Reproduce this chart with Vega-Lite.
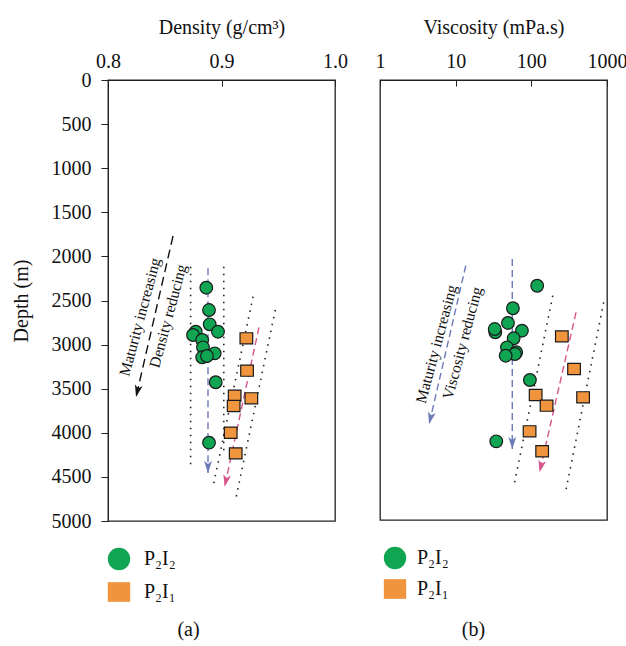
{
  "$schema": "https://vega.github.io/schema/vega-lite/v6.json",
  "padding": {"left": 10, "top": 16, "right": 5, "bottom": 2},
  "spacing": 45,
  "bounds": "flush",
  "config": {
    "font": "Liberation Serif",
    "view": {"stroke": "#222", "strokeWidth": 1.3},
    "axis": {"labelFont": "Liberation Serif", "titleFont": "Liberation Serif", "labelFontSize": 20, "titleFontSize": 20, "titleFontWeight": "normal", "labelColor": "#111", "titleColor": "#111", "domainColor": "#222", "tickColor": "#222", "grid": false, "labelFlush": false},
    "legend": {"labelFont": "Liberation Serif", "labelFontSize": 20, "labelColor": "#111", "symbolStrokeColor": "#1a1a1a", "symbolStrokeWidth": 1.3},
    "title": {"font": "Liberation Serif", "fontSize": 20, "fontWeight": "normal", "color": "#111"}
  },
  "datasets": {
    "ptsA": [
      {"s": "P₂I₂", "v": 0.8866, "depth": 2355},
      {"s": "P₂I₂", "v": 0.889, "depth": 2608},
      {"s": "P₂I₂", "v": 0.8896, "depth": 2770},
      {"s": "P₂I₂", "v": 0.8969, "depth": 2854},
      {"s": "P₂I₂", "v": 0.8773, "depth": 2854},
      {"s": "P₂I₂", "v": 0.8749, "depth": 2891},
      {"s": "P₂I₂", "v": 0.883, "depth": 2948},
      {"s": "P₂I₂", "v": 0.8837, "depth": 3031},
      {"s": "P₂I₂", "v": 0.894, "depth": 3099},
      {"s": "P₂I₂", "v": 0.883, "depth": 3144},
      {"s": "P₂I₂", "v": 0.8872, "depth": 3129},
      {"s": "P₂I₂", "v": 0.8949, "depth": 3427},
      {"s": "P₂I₂", "v": 0.889, "depth": 4112},
      {"s": "P₂I₁", "v": 0.9219, "depth": 2929},
      {"s": "P₂I₁", "v": 0.9225, "depth": 3296},
      {"s": "P₂I₁", "v": 0.9116, "depth": 3579},
      {"s": "P₂I₁", "v": 0.9263, "depth": 3609},
      {"s": "P₂I₁", "v": 0.9107, "depth": 3696},
      {"s": "P₂I₁", "v": 0.9081, "depth": 3999},
      {"s": "P₂I₁", "v": 0.9125, "depth": 4233}
    ],
    "linesA": [
      {"kind": "dot", "x": 0.8728, "y": 2116, "x2": 0.8728, "y2": 4403},
      {"kind": "dot", "x": 0.902, "y": 2116, "x2": 0.902, "y2": 4250},
      {"kind": "dot", "x": 0.9278, "y": 2457, "x2": 0.8925, "y2": 4611},
      {"kind": "dot", "x": 0.9474, "y": 2608, "x2": 0.9125, "y2": 4754},
      {"kind": "blue", "x": 0.8881, "y": 2135, "x2": 0.8881, "y2": 4456},
      {"kind": "pink", "x": 0.933, "y": 2804, "x2": 0.9028, "y2": 4611},
      {"kind": "black", "x": 0.8573, "y": 1769, "x2": 0.8247, "y2": 3594}
    ],
    "textA": [
      {"t": "Maturity increasing", "x": 0.8282, "y": 2687},
      {"t": "Density reducing", "x": 0.8529, "y": 2676}
    ],
    "ptsB": [
      {"s": "P₂I₂", "v": 119.5, "depth": 2338},
      {"s": "P₂I₂", "v": 57.1, "depth": 2594},
      {"s": "P₂I₂", "v": 49.1, "depth": 2761},
      {"s": "P₂I₂", "v": 75.1, "depth": 2849},
      {"s": "P₂I₂", "v": 33.4, "depth": 2867},
      {"s": "P₂I₂", "v": 32.8, "depth": 2830},
      {"s": "P₂I₂", "v": 58.4, "depth": 2935},
      {"s": "P₂I₂", "v": 47.6, "depth": 3038},
      {"s": "P₂I₂", "v": 63.1, "depth": 3094},
      {"s": "P₂I₂", "v": 60.7, "depth": 3114},
      {"s": "P₂I₂", "v": 45.8, "depth": 3133},
      {"s": "P₂I₂", "v": 95.7, "depth": 3409},
      {"s": "P₂I₂", "v": 34.4, "depth": 4106},
      {"s": "P₂I₁", "v": 253, "depth": 2913},
      {"s": "P₂I₁", "v": 367, "depth": 3284},
      {"s": "P₂I₁", "v": 114, "depth": 3580},
      {"s": "P₂I₁", "v": 159, "depth": 3701},
      {"s": "P₂I₁", "v": 483, "depth": 3606},
      {"s": "P₂I₁", "v": 94.8, "depth": 3992},
      {"s": "P₂I₁", "v": 139, "depth": 4219}
    ],
    "linesB": [
      {"kind": "dot", "x": 192, "y": 2451, "x2": 58.9, "y2": 4610},
      {"kind": "dot", "x": 904, "y": 2526, "x2": 283, "y2": 4685},
      {"kind": "bluev", "x": 56, "y": 2034, "x2": 56, "y2": 4193},
      {"kind": "blues", "x": 13.6, "y": 2110, "x2": 4.46, "y2": 3909},
      {"kind": "pink", "x": 390, "y": 2640, "x2": 128.5, "y2": 4458}
    ],
    "textB": [
      {"t": "Maturity increasing", "x": 5.57, "y": 3000},
      {"t": "Viscosity reducing", "x": 12.3, "y": 2989}
    ]
  },
  "resolve": {"scale": {"fill": "independent", "shape": "independent"}},
  "hconcat": [
    {
      "width": 227,
      "height": 441,
      "title": {"text": "(a)", "orient": "bottom", "offset": 15, "anchor": "middle", "dx": -33},
      "layer": [
        {
          "data": {"name": "linesA"},
          "transform": [{"filter": "datum.kind === 'dot'"}],
          "mark": {"type": "rule", "strokeDash": [1.5, 5.5], "strokeWidth": 1.6, "color": "#222"},
          "encoding": {
            "x": {"field": "x", "type": "quantitative", "scale": {"domain": [0.8, 1.0], "nice": false, "zero": false},
                  "axis": {"orient": "top", "title": "Density (g/cm³)", "values": [0.8, 0.9, 1.0], "format": ".1f", "tickSize": -6, "labelPadding": 15, "titlePadding": 14}},
            "y": {"field": "y", "type": "quantitative", "scale": {"domain": [0, 5000], "reverse": true, "nice": false, "zero": false},
                  "axis": {"orient": "left", "title": "Depth (m)", "values": [0, 500, 1000, 1500, 2000, 2500, 3000, 3500, 4000, 4500, 5000], "format": "d", "tickSize": 7, "labelPadding": 10, "titlePadding": 20}},
            "x2": {"field": "x2"},
            "y2": {"field": "y2"}
          }
        },
        {
          "data": {"name": "linesA"},
          "transform": [{"filter": "datum.kind === 'blue'"}],
          "mark": {"type": "rule", "strokeDash": [7, 4], "strokeWidth": 1.4, "color": "#6b79b6"},
          "encoding": {"x": {"field": "x", "type": "quantitative"}, "y": {"field": "y", "type": "quantitative"}, "x2": {"field": "x2"}, "y2": {"field": "y2"}}
        },
        {
          "data": {"name": "linesA"},
          "transform": [{"filter": "datum.kind === 'pink'"}],
          "mark": {"type": "rule", "strokeDash": [7, 4], "strokeWidth": 1.4, "color": "#d6548a"},
          "encoding": {"x": {"field": "x", "type": "quantitative"}, "y": {"field": "y", "type": "quantitative"}, "x2": {"field": "x2"}, "y2": {"field": "y2"}}
        },
        {
          "data": {"name": "linesA"},
          "transform": [{"filter": "datum.kind === 'black'"}],
          "mark": {"type": "rule", "strokeDash": [9, 5], "strokeWidth": 1.4, "color": "#111"},
          "encoding": {"x": {"field": "x", "type": "quantitative"}, "y": {"field": "y", "type": "quantitative"}, "x2": {"field": "x2"}, "y2": {"field": "y2"}}
        },
        {
          "data": {"name": "linesA"},
          "transform": [{"filter": "datum.kind === 'blue'"}],
          "mark": {"type": "point", "shape": "M0,0L-0.65,-2L0,-1.5L0.65,-2Z", "filled": true, "size": 144, "color": "#6b79b6", "opacity": 1, "angle": 0},
          "encoding": {"x": {"field": "x2", "type": "quantitative"}, "y": {"field": "y2", "type": "quantitative"}}
        },
        {
          "data": {"name": "linesA"},
          "transform": [{"filter": "datum.kind === 'pink'"}],
          "mark": {"type": "point", "shape": "M0,0L-0.65,-2L0,-1.5L0.65,-2Z", "filled": true, "size": 144, "color": "#d6548a", "opacity": 1, "angle": 12},
          "encoding": {"x": {"field": "x2", "type": "quantitative"}, "y": {"field": "y2", "type": "quantitative"}}
        },
        {
          "data": {"name": "linesA"},
          "transform": [{"filter": "datum.kind === 'black'"}],
          "mark": {"type": "point", "shape": "M0,0L-0.65,-2L0,-1.5L0.65,-2Z", "filled": true, "size": 144, "color": "#111", "opacity": 1, "angle": 13},
          "encoding": {"x": {"field": "x2", "type": "quantitative"}, "y": {"field": "y2", "type": "quantitative"}}
        },
        {
          "data": {"name": "textA"},
          "mark": {"type": "text", "angle": 285, "fontSize": 15.5, "font": "Liberation Serif", "align": "center", "baseline": "middle", "color": "#111"},
          "encoding": {"x": {"field": "x", "type": "quantitative"}, "y": {"field": "y", "type": "quantitative"}, "text": {"field": "t"}}
        },
        {
          "data": {"name": "ptsA"},
          "mark": {"type": "point", "filled": true, "size": 160, "strokeWidth": 1.2, "opacity": 1},
          "encoding": {
            "x": {"field": "v", "type": "quantitative"},
            "y": {"field": "depth", "type": "quantitative"},
            "stroke": {"value": "#1a1a1a"},
            "fill": {"field": "s", "type": "nominal", "scale": {"domain": ["P₂I₂", "P₂I₁"], "range": ["#0fa552", "#f0953d"]},
                     "legend": {"orient": "none", "legendX": -1, "legendY": 467, "title": null, "direction": "vertical", "symbolSize": 500, "rowPadding": 6, "labelOffset": 13,
                                "encode": {"symbols": {"update": {"stroke": {"value": "#1a1a1a"}, "strokeWidth": {"value": 1.3}, "strokeOpacity": {"value": 1}}}}}},
            "shape": {"field": "s", "type": "nominal", "scale": {"domain": ["P₂I₂", "P₂I₁"], "range": ["circle", "M-1,-0.88H1V0.88H-1Z"]},
                      "legend": {"orient": "none", "legendX": -1, "legendY": 467, "title": null, "direction": "vertical", "symbolSize": 500, "rowPadding": 6, "labelOffset": 13,
                                 "encode": {"symbols": {"update": {"stroke": {"value": "#1a1a1a"}, "strokeWidth": {"value": 1.3}, "strokeOpacity": {"value": 1}}}}}}
          }
        }
      ]
    },
    {
      "width": 227,
      "height": 440,
      "title": {"text": "(b)", "orient": "bottom", "offset": 18, "anchor": "middle", "dx": -20},
      "layer": [
        {
          "data": {"name": "linesB"},
          "transform": [{"filter": "datum.kind === 'dot'"}],
          "mark": {"type": "rule", "strokeDash": [1.5, 5.5], "strokeWidth": 1.6, "color": "#222"},
          "encoding": {
            "x": {"field": "x", "type": "quantitative", "scale": {"type": "log", "domain": [1, 1000], "nice": false},
                  "axis": {"orient": "top", "title": "Viscosity (mPa.s)", "values": [1, 10, 100, 1000], "format": "d", "tickSize": -6, "labelPadding": 15, "titlePadding": 14}},
            "y": {"field": "y", "type": "quantitative", "scale": {"domain": [0, 5000], "reverse": true, "nice": false, "zero": false}, "axis": null},
            "x2": {"field": "x2"},
            "y2": {"field": "y2"}
          }
        },
        {
          "data": {"name": "linesB"},
          "transform": [{"filter": "datum.kind === 'bluev' || datum.kind === 'blues'"}],
          "mark": {"type": "rule", "strokeDash": [7, 4], "strokeWidth": 1.4, "color": "#6b79b6"},
          "encoding": {"x": {"field": "x", "type": "quantitative"}, "y": {"field": "y", "type": "quantitative"}, "x2": {"field": "x2"}, "y2": {"field": "y2"}}
        },
        {
          "data": {"name": "linesB"},
          "transform": [{"filter": "datum.kind === 'pink'"}],
          "mark": {"type": "rule", "strokeDash": [7, 4], "strokeWidth": 1.4, "color": "#d6548a"},
          "encoding": {"x": {"field": "x", "type": "quantitative"}, "y": {"field": "y", "type": "quantitative"}, "x2": {"field": "x2"}, "y2": {"field": "y2"}}
        },
        {
          "data": {"name": "linesB"},
          "transform": [{"filter": "datum.kind === 'bluev'"}],
          "mark": {"type": "point", "shape": "M0,0L-0.65,-2L0,-1.5L0.65,-2Z", "filled": true, "size": 144, "color": "#6b79b6", "opacity": 1, "angle": 0},
          "encoding": {"x": {"field": "x2", "type": "quantitative"}, "y": {"field": "y2", "type": "quantitative"}}
        },
        {
          "data": {"name": "linesB"},
          "transform": [{"filter": "datum.kind === 'blues'"}],
          "mark": {"type": "point", "shape": "M0,0L-0.65,-2L0,-1.5L0.65,-2Z", "filled": true, "size": 144, "color": "#6b79b6", "opacity": 1, "angle": 13},
          "encoding": {"x": {"field": "x2", "type": "quantitative"}, "y": {"field": "y2", "type": "quantitative"}}
        },
        {
          "data": {"name": "linesB"},
          "transform": [{"filter": "datum.kind === 'pink'"}],
          "mark": {"type": "point", "shape": "M0,0L-0.65,-2L0,-1.5L0.65,-2Z", "filled": true, "size": 144, "color": "#d6548a", "opacity": 1, "angle": 13},
          "encoding": {"x": {"field": "x2", "type": "quantitative"}, "y": {"field": "y2", "type": "quantitative"}}
        },
        {
          "data": {"name": "textB"},
          "mark": {"type": "text", "angle": 285, "fontSize": 15.5, "font": "Liberation Serif", "align": "center", "baseline": "middle", "color": "#111"},
          "encoding": {"x": {"field": "x", "type": "quantitative"}, "y": {"field": "y", "type": "quantitative"}, "text": {"field": "t"}}
        },
        {
          "data": {"name": "ptsB"},
          "mark": {"type": "point", "filled": true, "size": 160, "strokeWidth": 1.2, "opacity": 1},
          "encoding": {
            "x": {"field": "v", "type": "quantitative"},
            "y": {"field": "depth", "type": "quantitative"},
            "stroke": {"value": "#1a1a1a"},
            "fill": {"field": "s", "type": "nominal", "scale": {"domain": ["P₂I₂", "P₂I₁"], "range": ["#0fa552", "#f0953d"]},
                     "legend": {"orient": "none", "legendX": 3, "legendY": 466, "title": null, "direction": "vertical", "symbolSize": 500, "rowPadding": 4, "labelOffset": 10,
                                "encode": {"symbols": {"update": {"stroke": {"value": "#1a1a1a"}, "strokeWidth": {"value": 1.3}, "strokeOpacity": {"value": 1}}}}}},
            "shape": {"field": "s", "type": "nominal", "scale": {"domain": ["P₂I₂", "P₂I₁"], "range": ["circle", "M-1,-0.88H1V0.88H-1Z"]},
                      "legend": {"orient": "none", "legendX": 3, "legendY": 466, "title": null, "direction": "vertical", "symbolSize": 500, "rowPadding": 4, "labelOffset": 10,
                                 "encode": {"symbols": {"update": {"stroke": {"value": "#1a1a1a"}, "strokeWidth": {"value": 1.3}, "strokeOpacity": {"value": 1}}}}}}
          }
        }
      ]
    }
  ]
}
